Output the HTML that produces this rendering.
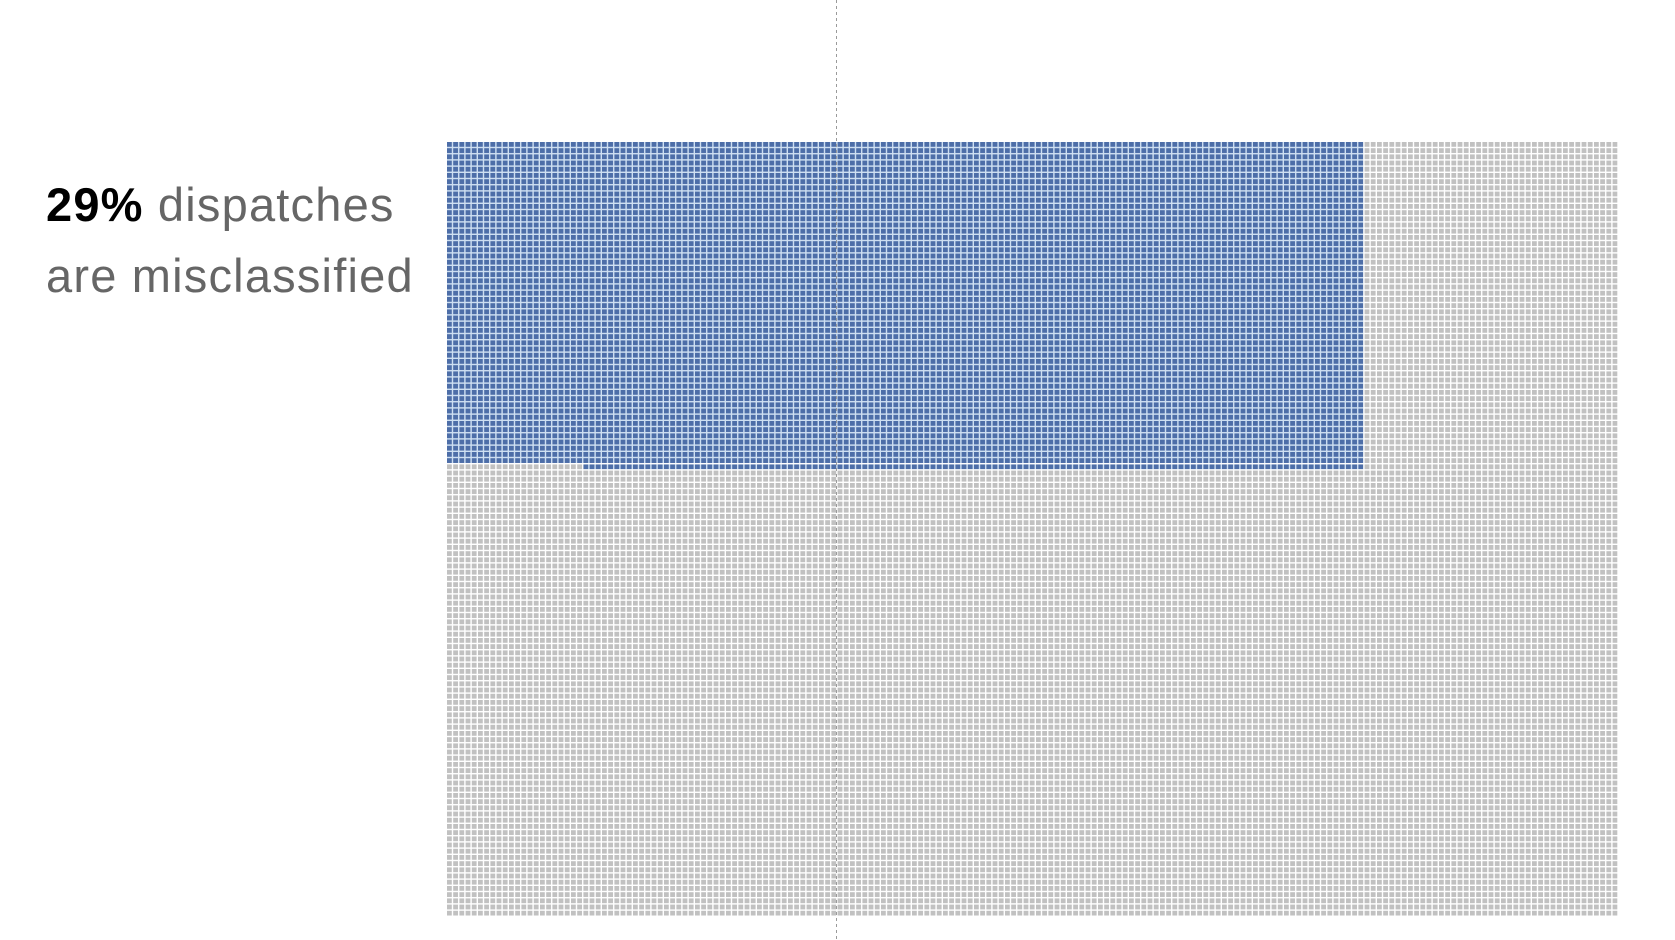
<!DOCTYPE html>
<html>
<head>
<meta charset="utf-8">
<style>
html,body{margin:0;padding:0;background:#fff;}
body{width:1675px;height:940px;overflow:hidden;position:relative;font-family:"Liberation Sans",sans-serif;}
.label{position:absolute;left:46px;top:169px;font-size:47px;line-height:71px;color:#666;letter-spacing:1.2px;}
.label b{color:#000;}
svg{position:absolute;left:0;top:0;}
</style>
</head>
<body>
<div class="label"><b>29%</b> dispatches<br>are misclassified</div>
<svg id="chart" width="1675" height="940">
<defs>
<pattern id="grayCell" patternUnits="userSpaceOnUse" x="447" y="142" width="6.2" height="6.2">
<rect x="0" y="0" width="4.8" height="4.8" fill="#c1c1c1"></rect>
</pattern>
<pattern id="blueCell" patternUnits="userSpaceOnUse" x="447" y="142" width="6.2" height="6.2">
<rect x="0" y="0" width="6.2" height="6.2" fill="#cfe0f2"></rect>
<rect x="0" y="0" width="4.8" height="4.8" fill="#4d6ea8"></rect>
</pattern>
</defs>
</svg>
<script>
// data
const gridCols = [189];
const gridRows = [125];
const blueWidthCols = [148];
const blueCellCount = [7822];

const NS = 'http://www.w3.org/2000/svg';
const svg = document.getElementById('chart');
const X0 = 447, Y0 = 142, P = 6.2, G = 1.4;
const xPos = c => X0 + c * P;
const yPos = r => Y0 + r * P;

const cols = gridCols[0], rows = gridRows[0];
const bg = document.createElementNS(NS, 'rect');


bg.setAttribute('x', xPos(0));
bg.setAttribute('y', yPos(0));
bg.setAttribute('width', cols * P - G);
bg.setAttribute('height', rows * P - G);
bg.setAttribute('fill', 'url(#grayCell)');
svg.appendChild(bg);

const w = blueWidthCols[0];
const n = blueCellCount[0];
const fullRows = Math.floor(n / w);
const rem = n - fullRows * w;
if (fullRows > 0) {
  const b = document.createElementNS(NS, 'rect');
  
  
  b.setAttribute('x', xPos(0));
  b.setAttribute('y', yPos(0));
  b.setAttribute('width', w * P - G);
  b.setAttribute('height', fullRows * P - G);
  b.setAttribute('fill', 'url(#blueCell)');
  svg.appendChild(b);
}
if (rem > 0) {
  const b2 = document.createElementNS(NS, 'rect');
  
  
  b2.setAttribute('x', xPos(w - rem));
  b2.setAttribute('y', yPos(fullRows));
  b2.setAttribute('width', rem * P - G);
  b2.setAttribute('height', P - G);
  b2.setAttribute('fill', 'url(#blueCell)');
  svg.appendChild(b2);
}

const line = document.createElementNS(NS, 'line');


line.setAttribute('x1', 836.5); line.setAttribute('x2', 836.5);
line.setAttribute('y1', 0); line.setAttribute('y2', 940);
line.setAttribute('stroke', '#9a9a9a');
line.setAttribute('stroke-width', '1');
line.setAttribute('stroke-dasharray', '3,3');
svg.appendChild(line);
</script>
</body>
</html>
